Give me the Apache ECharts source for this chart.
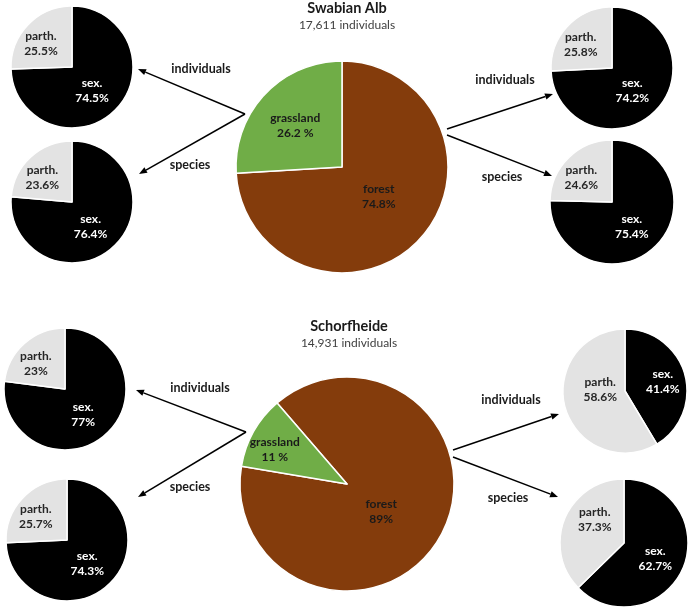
<!DOCTYPE html>
<html>
<head>
<meta charset="utf-8">
<script src="https://cdn.jsdelivr.net/npm/echarts@6/dist/echarts.min.js"></script>
<style>
html,body{margin:0;padding:0;background:#fff;}
#chart{width:693px;height:613px;}
</style>
</head>
<body>
<div id="chart"></div>
<script>
// ---- data ----
const habitatCategories = ['forest', 'grassland'];
const swabianHabitat = [74.8, 26.2];
const schorfHabitat = [89, 11];

const reproCategories = ['sex.', 'parth.'];
// Swabian Alb
const saGrassIndividuals = [74.5, 25.5];
const saGrassSpecies = [76.4, 23.6];
const saForestIndividuals = [74.2, 25.8];
const saForestSpecies = [75.4, 24.6];
// Schorfheide
const shGrassIndividuals = [77, 23];
const shGrassSpecies = [74.3, 25.7];
const shForestIndividuals = [41.4, 58.6];
const shForestSpecies = [62.7, 37.3];

const regionTitles = ['Swabian Alb', 'Schorfheide'];
const regionSubtitles = ['17,611 individuals', '14,931 individuals'];
const arrowLabels = ['individuals', 'species'];

// ---- styles ----
const FONT = 'Lato';
const habitatColors = { forest: '#843C0C', grassland: '#70AD47' };
const reproColors = { 'sex.': '#000000', 'parth.': '#E3E3E3' };
const reproText = { 'sex.': '#ffffff', 'parth.': '#262626' };

function habitatPie(center, radius, startAngle, values, offsets) {
  return {
    type: 'pie', center: center, radius: radius, startAngle: startAngle,
    clockwise: true, silent: true, animation: false,
    itemStyle: { borderColor: '#ffffff', borderWidth: 1.5 },
    label: {
      position: 'inside', fontFamily: FONT, fontWeight: 'bold', fontSize: 12,
      lineHeight: 15, color: '#1a1a1a',
      formatter: p => p.name + '\n' + p.value + (p.name === 'grassland' ? ' %' : '%')
    },
    labelLine: { show: false },
    data: habitatCategories.map((c, i) => ({
      name: c, value: values[i],
      itemStyle: { color: habitatColors[c] },
      label: { offset: offsets[i] }
    }))
  };
}

function reproPie(center, radius, values, offsets) {
  return {
    type: 'pie', center: center, radius: radius, startAngle: 90,
    clockwise: true, silent: true, animation: false,
    itemStyle: { borderColor: '#ffffff', borderWidth: 1.5 },
    label: {
      position: 'inside', fontFamily: FONT, fontWeight: 'bold', fontSize: 12,
      lineHeight: 15,
      formatter: p => p.name + '\n' + p.value + '%'
    },
    labelLine: { show: false },
    data: reproCategories.map((c, i) => ({
      name: c, value: values[i],
      itemStyle: { color: reproColors[c] },
      label: { color: reproText[c], offset: offsets ? offsets[i] : [0, 0] }
    }))
  };
}

function arrow(x1, y1, x2, y2) {
  const ang = Math.atan2(y2 - y1, x2 - x1);
  const L = 8, W = 3.2;
  const bx = x2 - L * Math.cos(ang), by = y2 - L * Math.sin(ang);
  const px = -Math.sin(ang) * W, py = Math.cos(ang) * W;
  return [
    { type: 'line', silent: true, shape: { x1: x1, y1: y1, x2: bx, y2: by },
      style: { stroke: '#000', lineWidth: 1.5 } },
    { type: 'polygon', silent: true,
      shape: { points: [[x2, y2], [bx + px, by + py], [bx - px, by - py]] },
      style: { fill: '#000' } }
  ];
}
function txt(x, y, s) {
  return { type: 'text', silent: true, x: x, y: y,
    style: { text: s, font: 'bold 12.5px ' + FONT, fill: '#1a1a1a', align: 'center', verticalAlign: 'middle' } };
}

const sOff = [[-4, 0], [-7, 0]];
const titleStyle = { fontFamily: FONT, fontWeight: 'bold', fontSize: 14.5, color: '#1a1a1a' };
const subStyle = { fontFamily: FONT, fontSize: 12, color: '#404040' };
const option = {
  backgroundColor: '#ffffff',
  title: [
    { text: regionTitles[0], subtext: regionSubtitles[0], left: 342, top: -4, textAlign: 'center', itemGap: 3,
      textStyle: titleStyle, subtextStyle: subStyle },
    { text: regionTitles[1], subtext: regionSubtitles[1], left: 344, top: 314, textAlign: 'center', itemGap: 3,
      textStyle: titleStyle, subtextStyle: subStyle }
  ],
  series: [
    habitatPie([342, 167], 106, 90, swabianHabitat, [[-4, -9], [-6, -3]]),
    habitatPie([347, 484], 107, 130.8, schorfHabitat, [[-15, 0], [-23, -7]]),
    reproPie([72, 67], 61, saGrassIndividuals, sOff),
    reproPie([72, 202], 61, saGrassSpecies, sOff),
    reproPie([612, 68], 61, saForestIndividuals, sOff),
    reproPie([612, 202], 62, saForestSpecies, sOff),
    reproPie([65, 389], 61, shGrassIndividuals, sOff),
    reproPie([67, 540], 61, shGrassSpecies, sOff),
    reproPie([625, 391], 62, shForestIndividuals, [[5, 0], [8, -10]]),
    reproPie([624, 543], 64, shForestSpecies, [[-1, 2], [3, -10]])
  ],
  graphic: [].concat(
    arrow(245, 114, 138, 69), arrow(245, 114, 139, 174),
    arrow(447, 129, 553, 94), arrow(447, 135, 552, 176),
    arrow(246, 432, 136, 390), arrow(246, 432, 138, 497),
    arrow(453, 450, 559, 414), arrow(453, 457, 558, 497),
    [
      txt(201, 69, arrowLabels[0]), txt(190, 165, arrowLabels[1]),
      txt(505, 80, arrowLabels[0]), txt(502, 177, arrowLabels[1]),
      txt(200, 388, arrowLabels[0]), txt(190, 487, arrowLabels[1]),
      txt(511, 400, arrowLabels[0]), txt(508, 498, arrowLabels[1])
    ]
  )
};

const chart = echarts.init(document.getElementById('chart'), null, { renderer: 'canvas' });
chart.setOption(option);
</script>
</body>
</html>
